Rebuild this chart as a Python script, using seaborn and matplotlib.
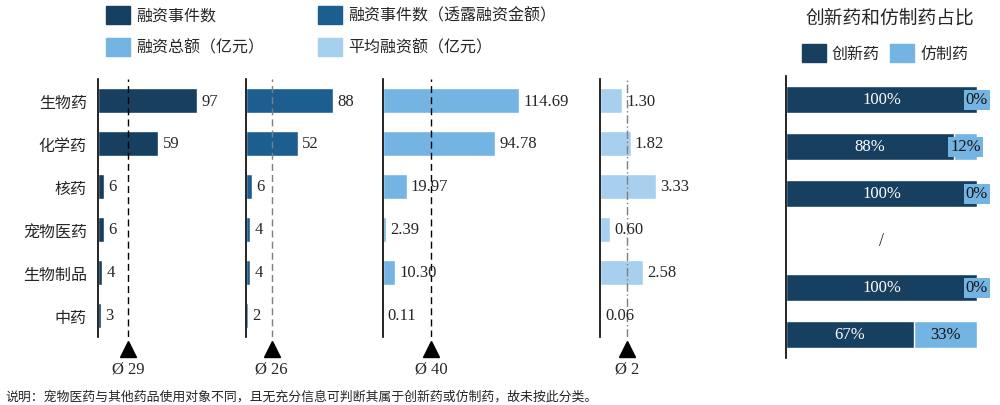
import numpy as np
import pandas as pd
import seaborn as sns
import matplotlib.pyplot as plt
from matplotlib.patches import Rectangle
from matplotlib.transforms import blended_transform_factory

# %% data
categories = ['生物药', '化学药', '核药', '宠物医药', '生物制品', '中药']
events = [97, 59, 6, 6, 4, 3]
events_disclosed = [88, 52, 6, 4, 4, 2]
total_amount = [114.69, 94.78, 19.97, 2.39, 10.30, 0.11]
avg_amount = [1.30, 1.82, 3.33, 0.60, 2.58, 0.06]
innovative_pct = [100, 88, 100, np.nan, 100, 67]
generic_pct = [0, 12, 0, np.nan, 0, 33]

series_names = ['融资事件数', '融资事件数（透露融资金额）', '融资总额（亿元）', '平均融资额（亿元）']
share_names = ['创新药', '仿制药']

C_DARK = '#173f5f'
C_MID = '#1d5e91'
C_LIGHT = '#74b4e2'
C_PALE = '#a7d0ef'

sns.set_style('white')
plt.rcParams['font.family'] = ['Liberation Serif', 'Noto Sans CJK SC']

W, H = 1000, 406
fig = plt.figure(figsize=(W / 100, H / 100), dpi=100)


def px_axes(left, top, width, height):
    return fig.add_axes([left / W, (H - top - height) / H, width / W, height / H])


def style_ax(ax):
    for s in ['top', 'right', 'bottom']:
        ax.spines[s].set_visible(False)
    ax.spines['left'].set_color('black')
    ax.spines['left'].set_linewidth(1.2)
    ax.set_xticks([])
    ax.set_xlabel('')
    ax.set_ylabel('')
    ax.tick_params(axis='y', length=0)


# %% four bar panels
panels = [
    (events, C_DARK, 98, 140, 137, '%d', 'black', (0, (5, 3))),
    (events_disclosed, C_MID, 246, 130, 131, '%d', '#7f7f7f', (0, (5, 3))),
    (total_amount, C_LIGHT, 383, 200, 168.6, '%.2f', 'black', (0, (5, 3))),
    (avg_amount, C_PALE, 600, 100, 5.95, '%.2f', '#7f7f7f', (0, (6, 2, 1, 2))),
]

for i, (vals, col, left, width, xmax, fmt, lcol, ls) in enumerate(panels):
    ax = px_axes(left, 80, width, 258)
    df = pd.DataFrame({'cat': categories, 'val': vals})
    sns.barplot(data=df, x='val', y='cat', order=categories, orient='h',
                color=col, width=0.58, saturation=1, ax=ax)
    ax.set_xlim(0, xmax)
    ax.set_ylim(5.5, -0.5)
    style_ax(ax)
    ax.bar_label(ax.containers[0], fmt=fmt, padding=3, fontsize=12,
                 family='Liberation Serif')
    if i == 0:
        ax.set_yticks(range(len(categories)))
        ax.set_yticklabels(categories, family='Noto Sans CJK SC', fontsize=11.5)
        ax.tick_params(axis='y', pad=8)
    else:
        ax.set_yticks([])
    mean = np.mean(vals)
    ax.axvline(mean, color=lcol, lw=1, ls=ls)
    tr = blended_transform_factory(ax.transData, ax.transAxes)
    ax.plot(mean, -0.047, marker='^', ms=11, color='black', transform=tr, clip_on=False)
    ax.text(mean, -0.124, f'Ø {mean:.0f}', transform=tr, ha='center', va='center',
            fontsize=12, family='Liberation Serif')

# %% share panel
ax = px_axes(786, 77, 210, 282)
share = pd.DataFrame({'cat': categories, 'inn': innovative_pct, 'gen': generic_pct})
share['tot'] = share['inn'] + share['gen']
sns.barplot(data=share, x='tot', y='cat', order=categories, orient='h',
            color=C_LIGHT, width=0.575, saturation=1, ax=ax)
sns.barplot(data=share, x='inn', y='cat', order=categories, orient='h',
            color=C_DARK, width=0.575, saturation=1, ax=ax)
ax.set_xlim(0, 110)
ax.set_ylim(5.5, -0.5)
style_ax(ax)
ax.set_yticks([])
for k, r in share.iterrows():
    if np.isnan(r.inn):
        ax.text(50, k, '/', ha='center', va='center', fontsize=13, family='Liberation Serif')
        continue
    ax.text(r.inn / 2, k, f'{r.inn:.0f}%', ha='center', va='center', color='white',
            fontsize=12, family='Liberation Serif')
    ax.text(r.inn + r.gen / 2, k, f'{r.gen:.0f}%', ha='center', va='center', color='#111111',
            fontsize=12, family='Liberation Serif',
            bbox=dict(boxstyle='square,pad=0.12', fc=C_LIGHT, ec='none'))

# %% legends
def legend_box(x, y, w, h, color, label, tx):
    fig.add_artist(Rectangle((x / W, 1 - (y + h) / H), w / W, h / H,
                             transform=fig.transFigure, color=color))
    fig.text(tx / W, 1 - (y + h / 2) / H, label, ha='left', va='center',
             fontsize=11.5, family='Noto Sans CJK SC')


legend_box(106, 7, 24, 18, C_DARK, series_names[0], 136)
legend_box(318, 7, 24, 18, C_MID, series_names[1], 348)
legend_box(106, 39, 24, 18, C_LIGHT, series_names[2], 136)
legend_box(318, 39, 24, 18, C_PALE, series_names[3], 348)

fig.text(890 / W, 1 - 18 / H, '创新药和仿制药占比', ha='center', va='center',
         fontsize=13.5, family='Noto Sans CJK SC')
legend_box(802, 45, 24, 18, C_DARK, share_names[0], 832)
legend_box(890, 45, 24, 18, C_LIGHT, share_names[1], 920)

fig.text(5 / W, 1 - 397 / H,
         '说明：宠物医药与其他药品使用对象不同，且无充分信息可判断其属于创新药或仿制药，故未按此分类。',
         ha='left', va='center', fontsize=9.3, family='Noto Sans CJK SC')

fig.savefig('out.png', dpi=100)
